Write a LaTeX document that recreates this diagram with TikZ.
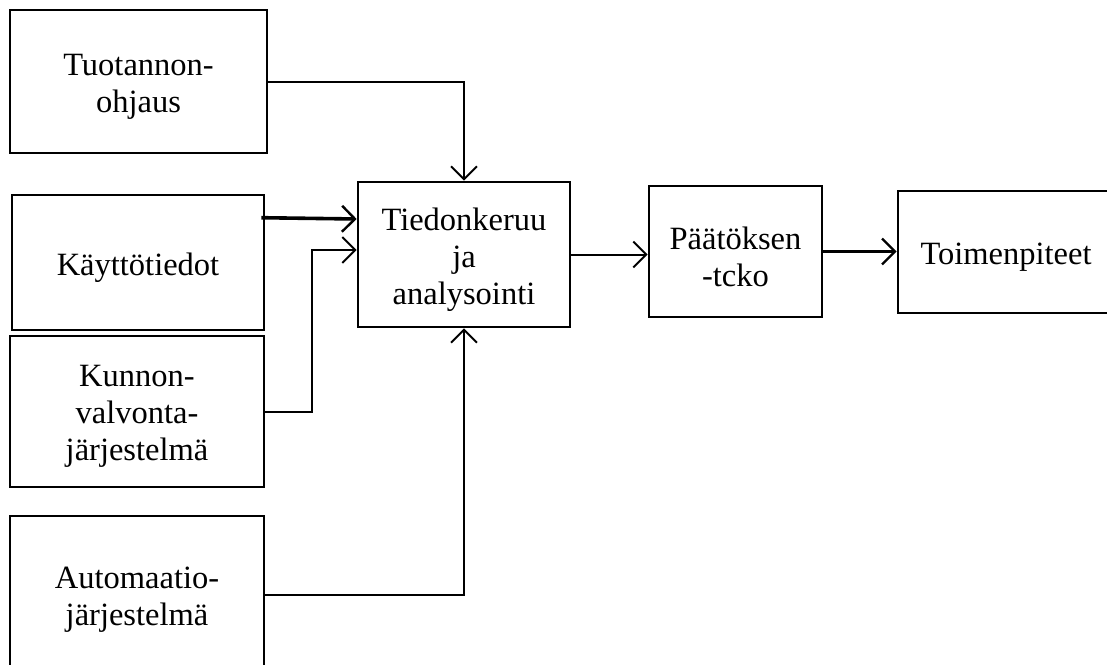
\documentclass[tikz,border=0pt]{standalone}
\usepackage{fontspec}
\setmainfont{Liberation Serif}
\usetikzlibrary{arrows.meta}
\begin{document}
\begin{tikzpicture}[x=1pt,y=1pt,
  box/.style={draw, line width=2.6pt, inner sep=0pt,
    label={[boxtext]center:#1}},
  boxtext/.style={align=center, inner sep=0pt, yshift=-5pt,
    font=\fontsize{32.5}{37}\selectfont},
  link/.style={line width=2pt, -{Straight Barb[length=13pt,width=26pt,line width=2pt]}},
  heavylink/.style={line width=3.6pt, -{Straight Barb[length=13pt,width=26pt,line width=2.4pt]}}]
\useasboundingbox (0,0) rectangle (1107,-664);
\clip (0,0) rectangle (1107,-664);
\fill[white] (0,0) rectangle (1107,-664);

% source boxes on the left
\node[box={Tuotannon-\\ohjaus}, minimum width=257, minimum height=143] (tuo) at (138.5,-81.5) {};
\node[box={Käyttötiedot}, minimum width=252, minimum height=135] (kay) at (138,-262.5) {};
\node[box={Kunnon-\\valvonta-\\järjestelmä}, minimum width=254, minimum height=151] (kun) at (137,-411.5) {};
\node[box={Automaatio-\\järjestelmä}, minimum width=254, minimum height=158] (aut) at (137,-595) {};

% processing chain
\node[box={Tiedonkeruu\\ja\\analysointi}, minimum width=212, minimum height=145] (tied) at (464,-254.5) {};
\node[box={Päätöksen\\-tcko}, minimum width=173, minimum height=131] (paa) at (735.5,-251.5) {};
\node[box={Toimenpiteet}, minimum width=216, minimum height=122] (toi) at (1006,-252) {};

% connectors
\draw[link] (tuo.east) -| (tied.north);
\draw[heavylink] ([xshift=-4pt,yshift=-24pt]kay.north east) -- (tied.west |- 0,-219);
\draw[link] (kun.east) -- ++(47,0) |- (tied.west |- 0,-250);
\draw[link] (aut.east) -| (tied.south);
\draw[link] (tied.east) -- (paa.west |- tied.east);
\draw[heavylink] (paa.east) -- (toi.west |- paa.east);
\end{tikzpicture}
\end{document}
